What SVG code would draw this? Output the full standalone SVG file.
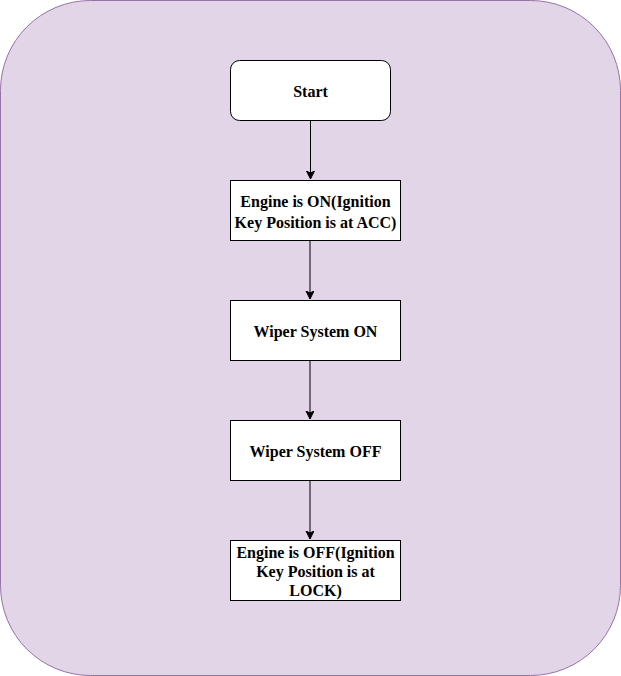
<svg xmlns="http://www.w3.org/2000/svg" width="621" height="676" viewBox="0 0 621 676">
<style>
.box{fill:#ffffff;stroke:#000000;stroke-width:1}
.t{font-family:"Liberation Serif","Times New Roman",serif;font-weight:bold;font-size:16px;fill:#000000;text-anchor:middle}
.c{stroke:#000000;stroke-width:1;fill:none}
</style>
<defs>
<marker id="arr" markerWidth="10" markerHeight="10" refX="8" refY="4" orient="auto" markerUnits="userSpaceOnUse">
<path d="M0,0 L8,4 L0,8 L2,4 Z" fill="#000000" stroke="#000000" stroke-width="1"/>
</marker>
</defs>
<g id="background">
<rect x="0.5" y="0.5" width="620" height="675" rx="90" ry="90" fill="#e1d5e7" stroke="#9673a6" stroke-width="1"/>
</g>
<g id="connectors">
<line class="c" x1="310.5" y1="120.5" x2="310.5" y2="179" marker-end="url(#arr)"/>
<line class="c" x1="310" y1="240.5" x2="310" y2="299" marker-end="url(#arr)"/>
<line class="c" x1="310" y1="360.5" x2="310" y2="419" marker-end="url(#arr)"/>
<line class="c" x1="310" y1="480.5" x2="310" y2="539" marker-end="url(#arr)"/>
</g>
<g id="start">
<rect class="box" x="230.5" y="60.5" width="160" height="60" rx="9" ry="9"/>
<text class="t" x="310.5" y="97">Start</text>
</g>
<g id="engine-on">
<rect class="box" x="230.5" y="180.5" width="170" height="60"/>
<text class="t" x="315.5" y="207">Engine is ON(Ignition</text>
<text class="t" x="315.5" y="228">Key Position is at ACC)</text>
</g>
<g id="wiper-on">
<rect class="box" x="230.5" y="300.5" width="170" height="60"/>
<text class="t" x="315.5" y="337">Wiper System ON</text>
</g>
<g id="wiper-off">
<rect class="box" x="230.5" y="420.5" width="170" height="60"/>
<text class="t" x="315.5" y="457">Wiper System OFF</text>
</g>
<g id="engine-off">
<rect class="box" x="230.5" y="540.5" width="170" height="60"/>
<text class="t" x="315.5" y="558">Engine is OFF(Ignition</text>
<text class="t" x="315.5" y="577">Key Position is at</text>
<text class="t" x="315.5" y="596">LOCK)</text>
</g>
</svg>
